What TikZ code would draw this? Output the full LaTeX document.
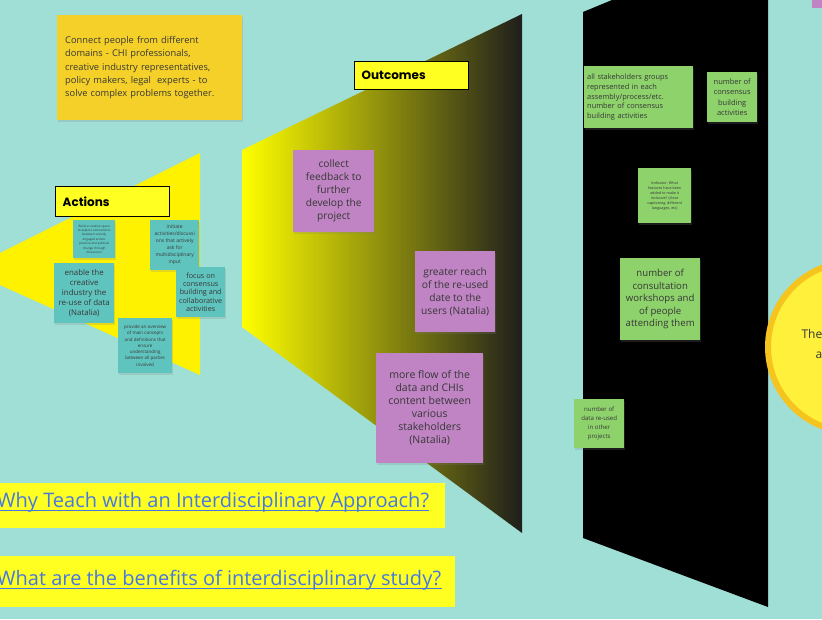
\documentclass[tikz,border=0pt]{standalone}
\usepackage{fontspec}
\setmainfont{Open Sans}
\newfontfamily\headfont{Poppins}
\usetikzlibrary{shadows}

\definecolor{bgteal}{RGB}{160,223,214}
\definecolor{notegold}{RGB}{245,208,40}
\definecolor{labelyellow}{RGB}{255,255,34}
\definecolor{noteteal}{RGB}{96,196,190}
\definecolor{notepurple}{RGB}{192,132,196}
\definecolor{notegreen}{RGB}{142,210,108}
\definecolor{inktext}{RGB}{55,55,55}
\definecolor{linkblue}{RGB}{70,120,225}
\definecolor{ringgold}{RGB}{245,196,30}
\definecolor{sunyellow}{RGB}{255,240,60}
\definecolor{funneldark}{RGB}{30,30,28}

\tikzset{
  note/.style={anchor=north west, inner sep=2pt, text=inktext, align=center,
    drop shadow={opacity=0.22, shadow xshift=1pt, shadow yshift=-1.5pt}},
  tealnote/.style={note, fill=noteteal},
  purplenote/.style={note, fill=notepurple},
  greennote/.style={note, fill=notegreen},
  headlabel/.style={anchor=north west, draw=black, line width=1.4pt, fill=labelyellow,
    inner xsep=7pt, align=left, font=\headfont\bfseries\fontsize{12}{14}\selectfont},
  linktext/.style={anchor=west, text=linkblue, inner sep=0pt, font=\fontsize{20}{23}\selectfont},
  linkline/.style={draw=linkblue, line width=1.4pt}
}

\begin{document}
\begin{tikzpicture}[x=1pt, y=-1pt]

    % --- Background ---
    \fill[bgteal] (0,0) rectangle (822,619);
    \useasboundingbox (0,0) rectangle (822,619);

    % --- Funnel shapes ---
    % left yellow wedge (actions)
    \fill[yellow] (0,253) -- (200,153) -- (200,375) -- (0,285) -- cycle;
    % middle shaded wedge (outcomes)
    \shade[left color=yellow, middle color=yellow!40!funneldark, right color=funneldark]
      (242,150) -- (522,14) -- (522,533) -- (242,327) -- cycle;
    % right black wedge (indicators)
    \fill[black] (583,12) -- (612,0) -- (768,0) -- (768,607) -- (583,538) -- cycle;

    % --- Circle on the right ---
    \draw[ringgold, line width=6pt, fill=sunyellow] (853,347) circle (85pt);
    \node[anchor=west, text=inktext, font=\fontsize{12}{14}\selectfont] (sunA) at (798,334) {The};
    \node[anchor=west, text=inktext, font=\fontsize{12}{14}\selectfont] (sunB) at (812,355) {av};
    \fill[notepurple] (812,0) rectangle (822,8);

    % --- Goal note ---
    \node[note, fill=notegold, align=left, minimum width=185pt, minimum height=105pt,
      text width=169pt, inner xsep=8pt, font=\fontsize{9.3}{13.3}\selectfont] (goal) at (57,15)
      {Connect people from different\\domains - CHI professionals,\\creative industry representatives,\\policy makers, legal\ \ experts - to\\solve complex problems together.};

    % --- Labels ---
    \node[headlabel, text width=100pt, minimum height=30pt] (actions) at (55,186) {Actions};
    \node[headlabel, text width=100pt, minimum height=28pt] (outcomes) at (354,61) {Outcomes};

    % --- Actions (teal notes) ---
    \node[tealnote, minimum width=42pt, minimum height=38pt, font=\fontsize{3.1}{4.4}\selectfont] (space) at (73,220)
      {Build a creative space\\to explore connections\\between socially\\engaged artistic\\practice and political\\change through\\discussion};
    \node[tealnote, minimum width=49pt, minimum height=50pt, font=\fontsize{5}{7}\selectfont] (initiate) at (150,220)
      {initiate\\activities/discussi\\ons that actively\\ask for\\multidisciplinary\\input};
    \node[tealnote, minimum width=60pt, minimum height=60pt, font=\fontsize{7.9}{10}\selectfont] (enable) at (54,263)
      {enable the\\creative\\industry the\\re-use of data\\(Natalia)};
    \node[tealnote, minimum width=49pt, minimum height=50pt, font=\fontsize{7.2}{8.2}\selectfont] (consensus) at (176,267)
      {focus on\\consensus\\building and\\collaborative\\activities};
    \node[tealnote, minimum width=54pt, minimum height=55pt, font=\fontsize{4.5}{6.3}\selectfont] (overview) at (118,318)
      {provide an overview\\of main concepts\\and definitions that\\ensure\\understanding\\between all parties\\involved};

    % --- Outcomes (purple notes) ---
    \node[purplenote, minimum width=81pt, minimum height=82pt, font=\fontsize{10.2}{13}\selectfont] (feedback) at (293,150)
      {collect\\feedback to\\further\\develop the\\project};
    \node[purplenote, minimum width=80pt, minimum height=81pt, font=\fontsize{10.2}{13}\selectfont] (reach) at (415,251)
      {greater reach\\of the re-used\\date to the\\users (Natalia)};
    \node[purplenote, minimum width=107pt, minimum height=110pt, font=\fontsize{10.5}{13}\selectfont] (flow) at (376,353)
      {more flow of the\\data and CHIs\\content between\\various\\stakeholders\\(Natalia)};

    % --- Indicators (green notes) ---
    \node[greennote, align=left, minimum width=109pt, minimum height=62pt, text width=103pt,
      inner xsep=3pt, font=\fontsize{7.4}{9.6}\selectfont] (groups) at (584,66)
      {all stakeholders groups\\represented in each\\assembly/process/etc.\\number of consensus\\building activities};
    \node[greennote, minimum width=50pt, minimum height=50pt, font=\fontsize{7.5}{10.3}\selectfont] (count) at (707,72)
      {number of\\consensus\\building\\activities};
    \node[greennote, minimum width=53pt, minimum height=55pt, font=\fontsize{3.7}{5}\selectfont] (inclusive) at (638,168)
      {Indicator: What\\features have been\\added to make it\\inclusive? (close\\captioning, different\\languages, etc)};
    \node[greennote, minimum width=80pt, minimum height=82pt, font=\fontsize{9.6}{12.5}\selectfont] (workshops) at (620,258)
      {number of\\consultation\\workshops and\\of people\\attending them};
    \node[greennote, minimum width=50pt, minimum height=49pt, font=\fontsize{6.1}{9}\selectfont] (reused) at (574,399)
      {number of\\data re-used\\in other\\projects};

    % --- Links ---
    \fill[labelyellow] (0,483) rectangle (445,528);
    \node[linktext] (whyteach) at (-3,502) {Why Teach with an Interdisciplinary Approach?};
    \draw[linkline] ([yshift=-3pt]whyteach.base west) -- ([yshift=-3pt]whyteach.base east);
    \fill[labelyellow] (0,556) rectangle (455,607);
    \node[linktext] (benefits) at (-3,580) {What are the benefits of interdisciplinary study?};
    \draw[linkline] ([yshift=-3pt]benefits.base west) -- ([yshift=-3pt]benefits.base east);

\end{tikzpicture}
\end{document}
